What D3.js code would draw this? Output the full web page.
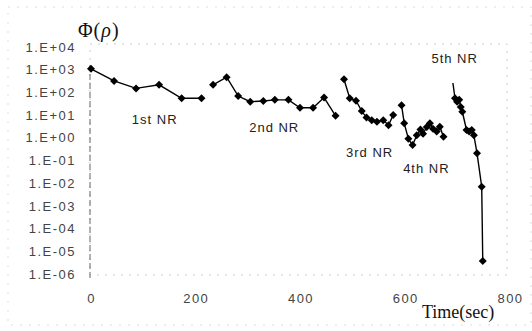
<!DOCTYPE html>
<html>
<head>
<meta charset="utf-8">
<script src="https://cdn.jsdelivr.net/npm/d3@7"></script>
<style>
  body { margin: 0; background: #fff; }
  svg { display: block; }
  .tick text { font-family: 'Liberation Sans', Arial, sans-serif; font-size: 13px; letter-spacing: 1.5px; fill: #444; }
  .nr { font-family: 'Liberation Sans', Arial, sans-serif; font-size: 13px; letter-spacing: 1px; fill: #222; }
  .serif { font-family: 'Liberation Serif', 'Times New Roman', serif; fill: #111; }
</style>
</head>
<body>
<svg id="chart"></svg>
<script>
// values (time in sec, phi on log scale)
const nr1Time = [0, 44, 86, 130, 173, 211]
const nr1Phi = [1100, 320, 150, 215, 55, 55]

const nr2Time = [233, 259, 281, 304, 329, 351, 377, 399, 424, 445, 467]
const nr2Phi = [215, 465, 69, 39, 42, 47, 47, 21, 21, 59, 9.3]

const nr3Time = [483, 494, 506, 517, 526, 536, 546, 558, 568, 577]
const nr3Phi = [380, 55, 43, 15, 7.8, 6, 5.1, 6, 3.6, 10]

const nr4Time = [593, 598, 606, 614, 622, 629, 634, 641, 647, 653, 660, 666, 673]
const nr4Phi = [27, 4.4, 0.9, 0.48, 1.3, 2.3, 1.5, 3, 4.4, 2.5, 1.9, 3.1, 1.1]

const nr5Time = [691, 695, 699, 703, 706, 709, 717, 722, 727, 731, 737, 746, 748]
const nr5Phi = [260, 55, 39, 47, 23, 14, 2.2, 1.9, 2.2, 1.3, 0.21, 0.007, 0.0000037]

const xTicks = [0, 200, 400, 600, 800]
const yTicks = [1e4, 1e3, 1e2, 1e1, 1e0, 1e-1, 1e-2, 1e-3, 1e-4, 1e-5, 1e-6]
const nrNames = ['1st NR', '2nd NR', '3rd NR', '4th NR', '5th NR']

const width = 532
const height = 331
const plot = { left: 91, right: 510, top: 47, bottom: 274 }

const svg = d3.select('#chart').attr('width', width).attr('height', height)

const x = d3.scaleLinear().domain([0, 800]).range([plot.left, plot.right])
const y = d3.scaleLog().domain([1e-6, 1e4]).range([plot.bottom, plot.top])

// faint frames left over from the scan
svg.append('rect')
  .attr('x', 8).attr('y', 7).attr('width', 523).attr('height', 318)
  .attr('fill', 'none').attr('stroke', '#ddd').attr('stroke-dasharray', '2,7')
svg.append('rect')
  .attr('x', plot.left - 1).attr('y', plot.top - 3)
  .attr('width', plot.right - plot.left - 2).attr('height', plot.bottom - plot.top + 4)
  .attr('fill', 'none').attr('stroke', '#ccc').attr('stroke-dasharray', '2,6')
svg.append('line')
  .attr('x1', plot.left - 1).attr('x2', plot.left - 1)
  .attr('y1', plot.top + 18).attr('y2', plot.bottom + 4)
  .attr('stroke', '#666').attr('stroke-dasharray', '6,3')

const fmt = (d) => {
  const e = Math.round(Math.log10(d))
  return '1.E' + (e < 0 ? '-' : '+') + String(Math.abs(e)).padStart(2, '0')
}

const yAxis = svg.append('g')
  .attr('transform', `translate(${plot.left},0)`)
  .call(d3.axisLeft(y).tickValues(yTicks).tickFormat(fmt).tickSize(0).tickPadding(15))
yAxis.select('.domain').remove()

const xAxis = svg.append('g')
  .attr('transform', `translate(0,${plot.bottom})`)
  .call(d3.axisBottom(x).tickValues(xTicks).tickFormat(d3.format('d')).tickSize(0).tickPadding(20))
xAxis.select('.domain').remove()

const series = [
  d3.zip(nr1Time, nr1Phi),
  d3.zip(nr2Time, nr2Phi),
  d3.zip(nr3Time, nr3Phi),
  d3.zip(nr4Time, nr4Phi),
  d3.zip(nr5Time, nr5Phi)
]

const line = d3.line().x((d) => x(d[0])).y((d) => y(d[1]))
const diamond = 'M0,-4L4,0L0,4L-4,0Z'

const groups = svg.selectAll('.series').data(series).join('g').attr('class', 'series')
groups.append('path')
  .attr('d', line)
  .attr('fill', 'none')
  .attr('stroke', '#000')
  .attr('stroke-width', 1.4)
// the 5th run's opening point shows no marker in the scan
groups.selectAll('path.mark')
  .data((d, i) => (i === 4 ? d.slice(1) : d))
  .join('path')
  .attr('class', 'mark')
  .attr('d', diamond)
  .attr('transform', (d) => `translate(${x(d[0])},${y(d[1])})`)
  .attr('fill', '#000')

// NR labels, anchored in data units
const labelAt = [[78, 4.1], [302, 1.85], [487, 0.14], [596, 0.028], [650, 1900]]
svg.selectAll('.nr')
  .data(nrNames)
  .join('text')
  .attr('class', 'nr')
  .attr('x', (d, i) => x(labelAt[i][0]))
  .attr('y', (d, i) => y(labelAt[i][1]))
  .text((d) => d)

const phi = svg.append('text').attr('class', 'serif')
  .attr('x', 78).attr('y', 37).attr('font-size', 20).attr('letter-spacing', 1)
phi.append('tspan').text('Φ(')
phi.append('tspan').attr('font-style', 'italic').text('ρ')
phi.append('tspan').text(')')

svg.append('text').attr('class', 'serif')
  .attr('x', 422).attr('y', 318).attr('font-size', 18)
  .text('Time(sec)')
</script>
</body>
</html>
